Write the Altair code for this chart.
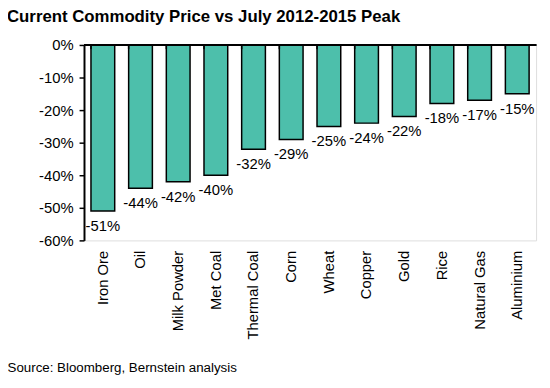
import altair as alt
import pandas as pd

commodities = ["Iron Ore", "Oil", "Milk Powder", "Met Coal", "Thermal Coal", "Corn",
               "Wheat", "Copper", "Gold", "Rice", "Natural Gas", "Aluminium"]
change_pct = [-51, -44, -42, -40, -32, -29, -25, -24, -22, -18, -17, -15]
y_ticks = [0, -10, -20, -30, -40, -50, -60]

df = pd.DataFrame({"commodity": commodities, "change": change_pct})
df["label"] = [f"{v}%" for v in change_pct]
df["zero"] = 0
df["tick_end"] = -1.3

FONT = "Liberation Sans"
W, H = 458, 198
BAR = "#4DBFAB"

x_axis = alt.Axis(
    title="Source: Bloomberg, Bernstein analysis",
    titleX=-78, titleY=129, titleAlign="left", titleBaseline="middle",
    titleFont=FONT, titleFontSize=13.5, titleFontWeight="normal", titleColor="black",
    labelAngle=-90, labelFont=FONT, labelFontSize=15, labelColor="black",
    labelPadding=10, domain=False, ticks=False, labelOverlap=False,
)
y_axis = alt.Axis(
    title=None, values=y_ticks, labelExpr="datum.value + '%'",
    labelFont=FONT, labelFontSize=15, labelColor="black", labelPadding=6,
    domainColor="black", domainWidth=2, tickColor="black", tickWidth=1.5,
    tickSize=5, grid=False, labelOverlap=False,
)
y_scale = alt.Scale(domain=[-60, 0], nice=False)
x_scale = alt.Scale(paddingInner=0.37)


def xenc(band_pos=None):
    kw = dict(sort=commodities, scale=x_scale, axis=x_axis, title="Source: Bloomberg, Bernstein analysis")
    if band_pos is not None:
        kw["bandPosition"] = band_pos
    return alt.X("commodity:N", **kw)


def yenc(field):
    return alt.Y(f"{field}:Q", scale=y_scale, axis=y_axis, title=None)


base = alt.Chart(df)

bars = base.mark_bar(color=BAR, stroke="black", strokeWidth=1.5).encode(
    x=xenc(), y=yenc("change")
)

labels = base.mark_text(
    baseline="top", dy=8, font=FONT, fontSize=15, color="black"
).encode(x=xenc(), y=yenc("change"), text="label:N")

zero_line = base.mark_rule(color="black", strokeWidth=2).encode(y=yenc("zero"))

ticks = base.mark_rule(color="black", strokeWidth=1.5).encode(
    x=xenc(0), y=yenc("zero"), y2="tick_end:Q"
)

chart = alt.layer(bars, zero_line, ticks, labels).properties(
    width=W, height=H,
    title=alt.TitleParams(
        "Current Commodity Price vs July 2012-2015 Peak",
        anchor="start", frame="group", dx=-78, offset=12,
        font=FONT, fontSize=17, fontWeight="bold", color="black",
    ),
    autosize=alt.AutoSizeParams(type="none"),
    padding={"left": 77, "top": 35, "right": 6, "bottom": 139},
).configure_view(stroke=None).configure(background="white")

chart.save("out.html", embed_options={"renderer": "svg", "actions": False})
